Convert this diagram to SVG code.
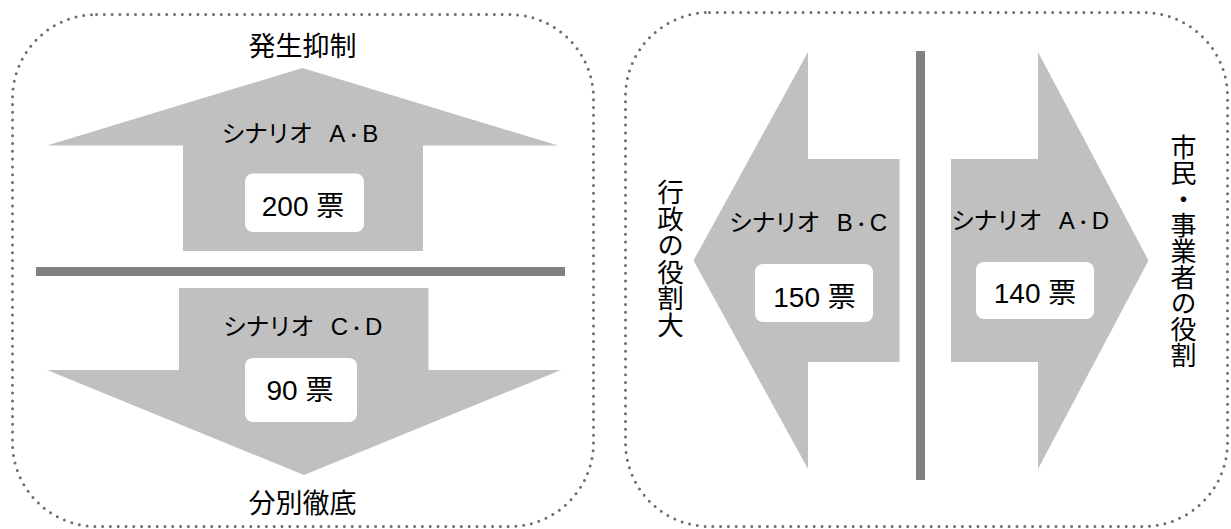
<svg xmlns="http://www.w3.org/2000/svg" width="1231" height="529" viewBox="0 0 1231 529">
  <style>
    .panel { fill: none; stroke: #6e6e6e; stroke-width: 3; stroke-linecap: round; stroke-dasharray: 0 7.8; }
    .arrow { fill: #c0c0c0; stroke: none; }
    .bar { fill: #808080; }
    .box { fill: #ffffff; }
    text { font-family: "Liberation Sans", "Noto Sans CJK JP", sans-serif; fill: #000000; text-anchor: middle; }
    .head { font-size: 27px; }
    .scn { font-size: 24px; text-anchor: start; }
    .kata { letter-spacing: -1.5px; }
    .dot { font-size: 17px; }
    .vote { font-size: 28px; }
    .vert { font-size: 26px; writing-mode: vertical-rl; }
    .vert-l { font-size: 26.5px; writing-mode: vertical-rl; }
  </style>

  <g id="panel-left">
    <rect class="panel" x="12.5" y="14.5" width="581" height="512" rx="84" ry="84"/>
    <text class="head" x="302.5" y="56">発生抑制</text>
    <text class="head" x="302.5" y="513">分別徹底</text>
  </g>

  <g id="panel-right">
    <rect class="panel" x="625.5" y="12.5" width="602" height="514" rx="84" ry="84"/>
    <text class="vert-l" x="668" y="258.5">行政の役割大</text>
    <text class="vert" x="1181" y="251.5">市民・事業者の役割</text>
  </g>

  <g id="connectors">
    <rect class="bar" x="36" y="267" width="529" height="9"/>
    <rect class="bar" x="916" y="51" width="9" height="429"/>
  </g>

  <g id="node-ab">
    <polygon class="arrow" points="302.5,68 558,145.5 423,145.5 423,251 183,251 183,145.5 47,145.5"/>
    <text class="scn" x="221.5" y="142"><tspan class="kata">シナリオ</tspan> <tspan dx="11">A</tspan><tspan class="dot">・</tspan>B</text>
    <rect class="box" x="245" y="173.5" width="119" height="58.5" rx="8" ry="8"/>
    <text class="vote" x="303" y="216">200 票</text>
  </g>

  <g id="node-cd">
    <polygon class="arrow" points="179,288 428.5,288 428.5,370 561,370 304,475 47,370 179,370"/>
    <text class="scn" x="223" y="335"><tspan class="kata">シナリオ</tspan> <tspan dx="11">C</tspan><tspan class="dot">・</tspan>D</text>
    <rect class="box" x="245" y="358" width="112" height="64" rx="8" ry="8"/>
    <text class="vote" x="300" y="400">90 票</text>
  </g>

  <g id="node-bc">
    <polygon class="arrow" points="693.5,260.5 808,52 808,159 899.5,159 899.5,362 808,362 808,469"/>
    <text class="scn" x="729" y="231"><tspan class="kata">シナリオ</tspan> <tspan dx="11">B</tspan><tspan class="dot">・</tspan>C</text>
    <rect class="box" x="755" y="264" width="118" height="58" rx="8" ry="8"/>
    <text class="vote" x="814.5" y="306.5">150 票</text>
  </g>

  <g id="node-ad">
    <polygon class="arrow" points="951,159 1038,159 1038,52 1148.5,260.5 1038,469 1038,362 951,362"/>
    <text class="scn" x="951" y="229"><tspan class="kata">シナリオ</tspan> <tspan dx="11">A</tspan><tspan class="dot">・</tspan>D</text>
    <rect class="box" x="976" y="262" width="118" height="57" rx="8" ry="8"/>
    <text class="vote" x="1035" y="303">140 票</text>
  </g>
</svg>
